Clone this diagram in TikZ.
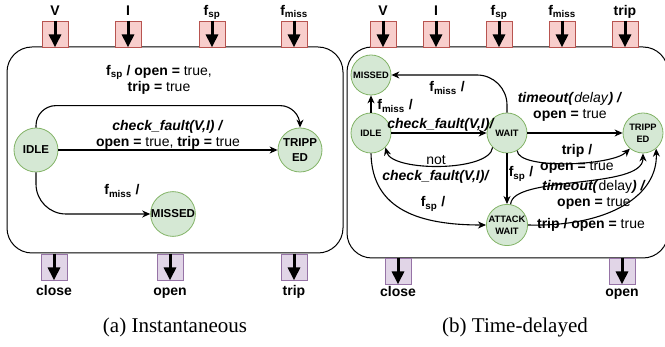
\documentclass[tikz,border=0pt]{standalone}
\usepackage{fontspec}
\setmainfont{Liberation Sans}
\newfontfamily\captionserif{Liberation Serif}
\usetikzlibrary{arrows.meta}

\definecolor{stateFill}{HTML}{D5E8D4}
\definecolor{stateLine}{HTML}{82B366}
\definecolor{inFill}{HTML}{F8CECC}
\definecolor{inLine}{HTML}{B85450}
\definecolor{outFill}{HTML}{E1D5E7}
\definecolor{outLine}{HTML}{9673A6}

\begin{document}
\begin{tikzpicture}
        [
        x=1pt, y=-1pt,
        bigstate/.style={circle, draw=stateLine, fill=stateFill, line width=0.8pt, inner sep=0pt, minimum size=44pt, align=center, font=\bfseries\fontsize{11.5}{15}\selectfont},
        smallstate/.style={bigstate, minimum size=40pt, font=\bfseries\fontsize{9.3}{12}\selectfont},
        inport/.style={draw=inLine, fill=inFill, line width=0.8pt, minimum width=26pt, minimum height=26pt, inner sep=0pt},
        outport/.style={inport, draw=outLine, fill=outFill},
        portarrow/.style={line width=3pt, -{Triangle[length=13pt,width=12pt]}},
        portlabel/.style={anchor=base, inner sep=0pt, font=\bfseries\fontsize{14}{17}\selectfont},
        trans/.style={line width=1.1pt, -{Stealth[length=8pt,width=7pt,inset=2.5pt]}},
        translabel/.style={inner sep=0pt, align=center, font=\fontsize{14}{16}\selectfont},
        caption/.style={anchor=base, inner sep=0pt, font=\captionserif\fontsize{21}{24}\selectfont},
        ]
        \useasboundingbox (0,0) rectangle (665,347);

        % the two blocks
        \draw[line width=1pt, rounded corners=25pt] (7,47) rectangle (343,253);
        \draw[line width=1pt, rounded corners=25pt] (347,47) rectangle (668,258);

        % (a) ports
        \node[inport] (inVa) at (55,34) {};
        \node[inport] (inIa) at (128,34) {};
        \node[inport] (inSpa) at (212,34) {};
        \node[inport] (inMissa) at (294,34) {};
        \node[outport] (outClosea) at (54,267) {};
        \node[outport] (outOpena) at (170,267) {};
        \node[outport] (outTripa) at (294,267) {};
        \draw[portarrow] (inVa.north) -- (inVa.south);
        \draw[portarrow] (inIa.north) -- (inIa.south);
        \draw[portarrow] (inSpa.north) -- (inSpa.south);
        \draw[portarrow] (inMissa.north) -- (inMissa.south);
        \draw[portarrow] (outClosea.north) -- (outClosea.south);
        \draw[portarrow] (outOpena.north) -- (outOpena.south);
        \draw[portarrow] (outTripa.north) -- (outTripa.south);
        \node[portlabel] (lVa) at (55,15.5) {V};
        \node[portlabel] (lIa) at (128,15.5) {I};
        \node[portlabel] (lSpa) at (212,15.5) {f\textsubscript{sp}};
        \node[portlabel] (lMissa) at (294,15.5) {f\textsubscript{miss}};
        \node[portlabel] (lClosea) at (54,296) {close};
        \node[portlabel] (lOpena) at (170,296) {open};
        \node[portlabel] (lTripa) at (294,296) {trip};

        % (b) ports
        \node[inport] (inVb) at (383,34) {};
        \node[inport] (inIb) at (436,34) {};
        \node[inport] (inSpb) at (499,34) {};
        \node[inport] (inMissb) at (562,34) {};
        \node[inport] (inTripb) at (625,34) {};
        \node[outport] (outCloseb) at (398,271) {};
        \node[outport] (outOpenb) at (622,271) {};
        \draw[portarrow] (inVb.north) -- (inVb.south);
        \draw[portarrow] (inIb.north) -- (inIb.south);
        \draw[portarrow] (inSpb.north) -- (inSpb.south);
        \draw[portarrow] (inMissb.north) -- (inMissb.south);
        \draw[portarrow] (inTripb.north) -- (inTripb.south);
        \draw[portarrow] (outCloseb.north) -- (outCloseb.south);
        \draw[portarrow] (outOpenb.north) -- (outOpenb.south);
        \node[portlabel] (lVb) at (383,15.5) {V};
        \node[portlabel] (lIb) at (436,15.5) {I};
        \node[portlabel] (lSpb) at (499,15.5) {f\textsubscript{sp}};
        \node[portlabel] (lMissb) at (562,15.5) {f\textsubscript{miss}};
        \node[portlabel] (lTripb) at (625,15.5) {trip};
        \node[portlabel] (lCloseb) at (398,297) {close};
        \node[portlabel] (lOpenb) at (622,297) {open};

        % (a) states
        \node[bigstate] (idleA) at (36,150) {IDLE};
        \node[bigstate] (tripA) at (300,150) {TRIPP\\ED};
        \node[bigstate] (missA) at (173,214) {MISSED};

        \draw[trans] (idleA) -- (tripA);
        \draw[trans, rounded corners=20pt] (idleA.north) -- ++(0,-22) -| (tripA.north);
        \draw[trans, rounded corners=30pt] (idleA.south) |- (missA.west);

        \node[translabel] (lblSpA) at (159,80) {\textbf{f\textsubscript{sp} / open =} true,\\\textbf{trip =} true};
        \node[translabel] (lblChkA) at (168,135) {\textbf{\textit{check\_fault(V,I) /}}\\\textbf{open =} true, \textbf{trip =} true};
        \node[translabel, anchor=base] (lblMissA) at (122,195) {\textbf{f\textsubscript{miss} /}};

        % (b) states
        \node[smallstate] (missB) at (371,75) {MISSED};
        \node[smallstate] (idleB) at (371,133) {IDLE};
        \node[smallstate] (waitB) at (507,133) {WAIT};
        \node[smallstate] (tripB) at (643,133) {TRIPP\\ED};
        \node[smallstate] (attB) at (507,225) {ATTACK\\WAIT};

        \draw[trans] (idleB) -- (missB);
        \draw[trans, rounded corners=30pt] (waitB.north) |- (missB.east);
        \draw[trans] (idleB) -- (waitB);
        \draw[trans] (waitB.south west) .. controls (490,172) and (392,172) .. (idleB.south east);
        \draw[trans] (waitB) -- (tripB);
        \draw[trans] (waitB.-60) .. controls (518,170) and (612,166) .. (tripB.-130);
        \draw[trans] (waitB) -- (attB);
        \draw[trans] (attB.80) .. controls (512,175) and (643,190) .. (tripB.south);
        \draw[trans] (attB.east) .. controls (610,227) and (658,195) .. (tripB.-50);
        \draw[trans] (idleB.south) .. controls (372,210) and (420,225) .. (attB.west);

        \node[translabel, anchor=base] (lblMissB1) at (447,92) {\textbf{f\textsubscript{miss} /}};
        \node[translabel, anchor=base] (lblMissB2) at (395,110) {\textbf{f\textsubscript{miss} /}};
        \node[translabel, anchor=base] (lblChkB) at (441,129) {\textbf{\textit{check\_fault(V,I)/}}};
        \node[translabel] (lblNotB) at (436,169) {not\\\textbf{\textit{check\_fault(V,I)/}}};
        \node[translabel] (lblToB1) at (570,107) {\textbf{\textit{timeout(}}\textit{delay}\textbf{\textit{) /}}\\\textbf{open =} true};
        \node[translabel] (lblTripB1) at (577,159) {\textbf{trip /}\\\textbf{open =} true};
        \node[translabel, anchor=base] (lblSpB1) at (521,177) {\textbf{f\textsubscript{sp} /}};
        \node[translabel] (lblToB2) at (594,195) {\textbf{\textit{timeout(}}delay\textbf{\textit{) /}}\\\textbf{open =} true};
        \node[translabel, anchor=base] (lblTripB2) at (591,229) {\textbf{trip / open =} true};
        \node[translabel, anchor=base] (lblSpB2) at (433,207) {\textbf{f\textsubscript{sp} /}};

        % captions
        \node[caption] (capA) at (175,333) {(a) Instantaneous};
        \node[caption] (capB) at (515,333) {(b) Time-delayed};
\end{tikzpicture}
\end{document}
